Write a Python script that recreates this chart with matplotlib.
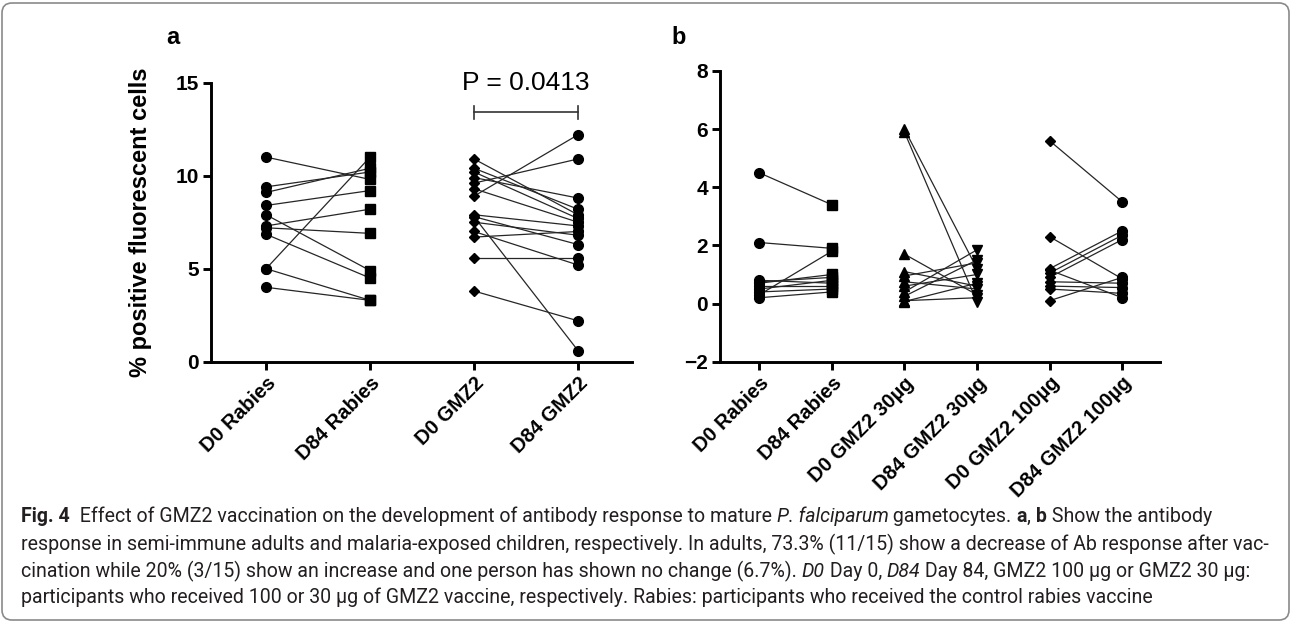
import matplotlib
matplotlib.use('Agg')
import matplotlib.pyplot as plt
from matplotlib.patches import FancyBboxPatch
from matplotlib.transforms import IdentityTransform

# ---------------- data ----------------
a_categories = ["D0 Rabies", "D84 Rabies", "D0 GMZ2", "D84 GMZ2"]
a_rabies_d0 = [11.0, 9.4, 9.1, 8.4, 7.9, 7.3, 7.2, 6.85, 5.0, 5.0, 4.0]
a_rabies_d84 = [9.8, 10.2, 10.4, 9.2, 4.9, 8.2, 6.9, 4.5, 11.0, 3.3, 3.3]
a_gmz2_d0 = [8.9, 9.6, 9.9, 10.4, 10.9, 10.2, 9.3, 7.9, 6.7, 7.5, 7.8, 5.6, 7.0, 3.8, 7.8]
a_gmz2_d84 = [12.2, 10.9, 8.8, 8.2, 7.9, 7.7, 7.5, 7.3, 7.0, 6.8, 6.3, 5.6, 5.2, 2.2, 0.6]
a_yticks = [0, 5, 10, 15]
a_pvalue = "P = 0.0413"

b_categories = ["D0 Rabies", "D84 Rabies", "D0 GMZ2 30µg", "D84 GMZ2 30µg",
                "D0 GMZ2 100µg", "D84 GMZ2 100µg"]
b_rabies_d0 = [4.5, 2.1, 0.3, 0.8, 0.75, 0.7, 0.6, 0.5, 0.4, 0.2]
b_rabies_d84 = [3.4, 1.9, 1.8, 0.7, 0.9, 1.0, 0.6, 0.8, 0.5, 0.4]
b_30_d0 = [6.0, 5.9, 1.7, 1.1, 0.95, 0.75, 0.6, 0.4, 0.25, 0.1, 0.07]
b_30_d84 = [1.2, 0.05, 0.3, 0.6, 1.4, 0.5, 1.0, 1.85, 1.5, 0.2, 0.7]
b_100_d0 = [5.6, 2.3, 1.2, 1.05, 0.9, 1.15, 0.75, 0.6, 0.5, 0.1]
b_100_d84 = [3.5, 0.85, 2.5, 2.35, 2.2, 0.2, 0.7, 0.55, 0.35, 0.9]
b_yticks = [-2, 0, 2, 4, 6, 8]

ylabel_a = "% positive fluorescent cells"

caption_lines = [
    [("Fig. 4", "bold", "normal"), ("  Effect of GMZ2 vaccination on the development of antibody response to mature ", "normal", "normal"),
     ("P. falciparum", "normal", "italic"), (" gametocytes. ", "normal", "normal"), ("a", "bold", "normal"),
     (", ", "normal", "normal"), ("b", "bold", "normal"), (" Show the antibody", "normal", "normal")],
    [("response in semi-immune adults and malaria-exposed children, respectively. In adults, 73.3% (11/15) show a decrease of Ab response after vac-", "normal", "normal")],
    [("cination while 20% (3/15) show an increase and one person has shown no change (6.7%). ", "normal", "normal"),
     ("D0", "normal", "italic"), (" Day 0, ", "normal", "normal"), ("D84", "normal", "italic"),
     (" Day 84, GMZ2 100 µg or GMZ2 30 µg:", "normal", "normal")],
    [("participants who received 100 or 30 µg of GMZ2 vaccine, respectively. Rabies: participants who received the control rabies vaccine", "normal", "normal")],
]

# ---------------- figure ----------------
W, H = 1292, 622
plt.rcParams['font.family'] = ['Liberation Sans', 'DejaVu Sans']
fig = plt.figure(figsize=(W / 100, H / 100), dpi=100)
fig.patch.set_facecolor('white')

# rounded frame
frame = FancyBboxPatch((2, 2), W - 5, H - 5, boxstyle="round,pad=0,rounding_size=10",
                       transform=IdentityTransform(), facecolor='none',
                       edgecolor='#8a8a8a', linewidth=1.2)
fig.patches.append(frame)

def px_axes(left, top, right, bottom):
    return fig.add_axes([left / W, 1 - bottom / H, (right - left) / W, (bottom - top) / H])

axa = px_axes(211, 82.7, 632, 361.7)
axb = px_axes(720, 71, 1160, 361.7)

LINE_C = '#262626'
SPINE_W = 2.1

def style_axes(ax):
    for s in ['top', 'right']:
        ax.spines[s].set_visible(False)
    for s in ['left', 'bottom']:
        ax.spines[s].set_linewidth(SPINE_W)
        ax.spines[s].set_color('black')
    ax.tick_params(direction='out', length=5.5, width=SPINE_W, colors='black', pad=3)
    ax.tick_params(axis='y', labelsize=15)
    for lab in ax.get_yticklabels():
        lab.set_fontweight('bold')

def draw_pairs(ax, x0, x1, v0, v1, m0, m1, ms0, ms1):
    for a, b in zip(v0, v1):
        ax.plot([x0, x1], [a, b], color=LINE_C, lw=0.9, zorder=2, clip_on=False)
    ax.plot([x0] * len(v0), v0, ls='none', marker=m0, ms=ms0, color='black', zorder=3, clip_on=False)
    ax.plot([x1] * len(v1), v1, ls='none', marker=m1, ms=ms1, color='black', zorder=3, clip_on=False)

# ---- panel a ----
draw_pairs(axa, 0, 1, a_rabies_d0, a_rabies_d84, 'o', 's', 7, 7)
draw_pairs(axa, 2, 3, a_gmz2_d0, a_gmz2_d84, 'D', 'o', 5, 7)
axa.set_xlim(-0.53, 3.52)
axa.set_ylim(0, 15)
axa.set_yticks(a_yticks)
axa.set_xticks(range(len(a_categories)))
axa.set_xticklabels(a_categories, rotation=45, ha='right', va='top',
                    rotation_mode='anchor', fontweight='bold', fontsize=14.5)
style_axes(axa)
axa.set_ylabel(ylabel_a, fontsize=17, fontweight='bold')
axa.yaxis.set_label_coords(-0.14, 0.5)

# significance bracket
yb = 13.4
axa.plot([2, 3], [yb, yb], color='#333333', lw=1.2, clip_on=False)
axa.plot([2, 2], [yb - 0.35, yb + 0.35], color='#333333', lw=1.2, clip_on=False)
axa.plot([3, 3], [yb - 0.35, yb + 0.35], color='#333333', lw=1.2, clip_on=False)
axa.text(2.5, 15.0, a_pvalue, ha='center', va='center', fontsize=19, clip_on=False)

# ---- panel b ----
draw_pairs(axb, 0, 1, b_rabies_d0, b_rabies_d84, 'o', 's', 7, 7)
draw_pairs(axb, 2, 3, b_30_d0, b_30_d84, '^', 'v', 7, 7)
draw_pairs(axb, 4, 5, b_100_d0, b_100_d84, 'D', 'o', 5.5, 7)
axb.set_xlim(-0.54, 5.52)
axb.set_ylim(-2, 8)
axb.set_yticks(b_yticks)
axb.set_xticks(range(len(b_categories)))
axb.set_xticklabels(b_categories, rotation=45, ha='right', va='top',
                    rotation_mode='anchor', fontweight='bold', fontsize=14.5)
style_axes(axb)

# panel letters
fig.text(173 / W, 1 - 38 / H, "a", ha='center', va='center', fontsize=17, fontweight='bold')
fig.text(679 / W, 1 - 37 / H, "b", ha='center', va='center', fontsize=17, fontweight='bold')

# ---- caption ----
renderer = fig.canvas.get_renderer()
CAP_FONT = ['Roboto', 'DejaVu Sans']
CAP_C = '#231f20'

def line_width(pieces, size):
    total = 0
    for txt, w, s in pieces:
        t = fig.text(0, 0, txt, fontsize=size, fontweight=w, fontstyle=s, family=CAP_FONT,
                     transform=IdentityTransform())
        total += t.get_window_extent(renderer).width
        t.remove()
    return total

base = 10
target = 1270 - 21
wl = line_width(caption_lines[1], base)
cap_size = base * target / wl

baselines = [522, 550, 577, 603]
for pieces, yb_ in zip(caption_lines, baselines):
    x = 21
    for txt, w, s in pieces:
        t = fig.text(x, H - yb_, txt, fontsize=cap_size, fontweight=w, fontstyle=s,
                     family=CAP_FONT, color=CAP_C, ha='left', va='baseline',
                     transform=IdentityTransform())
        x += t.get_window_extent(renderer).width

fig.savefig('out.png', dpi=100, facecolor='white')
